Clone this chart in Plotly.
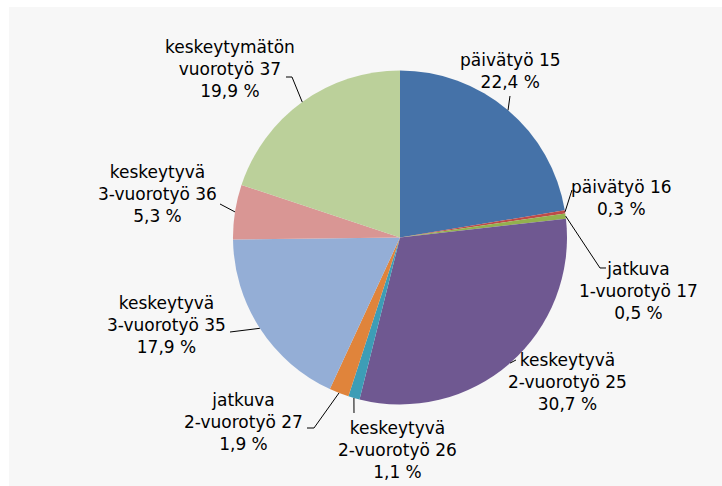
import math
import plotly.graph_objects as go

# ---- data ----
categories = [
    "päivätyö 15",
    "päivätyö 16",
    "jatkuva 1-vuorotyö 17",
    "keskeytyvä 2-vuorotyö 25",
    "keskeytyvä 2-vuorotyö 26",
    "jatkuva 2-vuorotyö 27",
    "keskeytyvä 3-vuorotyö 35",
    "keskeytyvä 3-vuorotyö 36",
    "keskeytymätön vuorotyö 37",
]
shares = [22.4, 0.3, 0.5, 30.7, 1.1, 1.9, 17.9, 5.3, 19.9]
label_lines = [
    ["päivätyö 15"],
    ["päivätyö 16"],
    ["jatkuva", "1-vuorotyö 17"],
    ["keskeytyvä", "2-vuorotyö 25"],
    ["keskeytyvä", "2-vuorotyö 26"],
    ["jatkuva", "2-vuorotyö 27"],
    ["keskeytyvä", "3-vuorotyö 35"],
    ["keskeytyvä", "3-vuorotyö 36"],
    ["keskeytymätön", "vuorotyö 37"],
]

# ---- style ----
colors = ["#4572A8", "#BE4B48", "#93B14E", "#6F5891", "#3D9DB6",
          "#E0843B", "#94AED6", "#D99694", "#BBD09A"]
W, H = 722, 486
CX, CY, R = 400, 237.5, 167
# label block centres (px) and leader-line bends (px)
label_pos = [(510, 71), (621, 198), (638, 291), (567, 382), (397, 450),
             (243, 422), (166, 325), (157, 194), (230, 69)]
leader_pts = [
    [(510, 96)],
    [(572, 190)],
    [(600, 268), (606, 268)],
    [(516, 360)],
    [(354, 413)],
    [(314, 428), (307, 428)],
    [(230, 332)],
    [(220, 204)],
    [(292, 77), (286, 77)],
]


def px(x, y):
    return x / W, 1 - y / H


fig = go.Figure(go.Pie(
    labels=categories, values=shares, sort=False, direction="clockwise",
    rotation=0, textinfo="none", hoverinfo="skip",
    marker=dict(colors=colors, line=dict(width=0)),
    domain=dict(x=[(CX - R) / W, (CX + R) / W],
                y=[1 - (CY + R) / H, 1 - (CY - R) / H]),
    showlegend=False,
))

shapes = [dict(type="rect", xref="paper", yref="paper", layer="below",
               x0=9 / W, x1=1, y0=0, y1=1 - 7 / H,
               fillcolor="#F7F7F7", line=dict(width=0))]
annotations = []
total = sum(shares)
cum = 0.0
for i, v in enumerate(shares):
    mid = (cum + v / 2) / total * 2 * math.pi
    cum += v
    ex, ey = CX + R * math.sin(mid), CY - R * math.cos(mid)
    pts = [(ex, ey)] + leader_pts[i]
    path = "M " + " L ".join(f"{px(x, y)[0]:.5f},{px(x, y)[1]:.5f}" for x, y in pts)
    shapes.append(dict(type="path", xref="paper", yref="paper", path=path,
                       line=dict(color="#000000", width=1)))
    txt = "<br>".join(label_lines[i] + [f"{v:.1f}".replace(".", ",") + " %"])
    lx, ly = px(*label_pos[i])
    annotations.append(dict(x=lx, y=ly, xref="paper", yref="paper",
                            text=txt, showarrow=False, xanchor="center",
                            yanchor="middle", align="center",
                            font=dict(family="DejaVu Sans", size=17,
                                      color="#000000")))

fig.update_layout(width=W, height=H, margin=dict(l=0, r=0, t=0, b=0),
                  paper_bgcolor="#FFFFFF", plot_bgcolor="#F7F7F7",
                  shapes=shapes, annotations=annotations)
fig.write_html("out.html", config={"displayModeBar": False},
               post_script="document.body.style.margin='0';"
                           "document.body.style.padding='0';")
